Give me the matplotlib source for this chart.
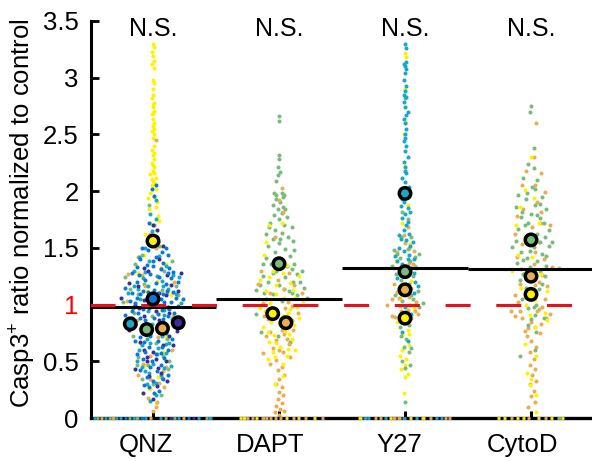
import matplotlib
matplotlib.use("Agg")
import matplotlib.pyplot as plt
from matplotlib.transforms import ScaledTranslation

plt.rcParams["font.family"] = ["Liberation Sans", "DejaVu Sans"]
plt.rcParams["mathtext.default"] = "regular"

groups = ["QNZ", "DAPT", "Y27", "CytoD"]
y_ticks = [0, 0.5, 1, 1.5, 2, 2.5, 3, 3.5]
y_tick_labels = ["0", "0.5", "1", "1.5", "2", "2.5", "3", "3.5"]
means = [0.98, 1.05, 1.32, 1.31]

yellow = "#fff200"
blue = "#0a78d8"
teal = "#18a8c8"
purple = "#3a2e96"
green = "#78bc7c"
orange = "#e8ae50"

# (offset from group centre, ratio)
qnz_yellow = [(0.0, 3.3), (0.01, 3.27), (-0.01, 3.23), (0.0, 3.19), (0.01, 3.15), (-0.01, 3.12), (0.01, 3.09), (0.0, 2.98),
              (0.01, 2.95), (0.0, 2.9), (0.0, 2.85), (-0.01, 2.82), (0.01, 2.78), (0.0, 2.74), (0.01, 2.71), (-0.01, 2.68),
              (0.0, 2.64), (0.01, 2.6), (0.0, 2.57), (-0.01, 2.53), (0.01, 2.5), (0.0, 2.47), (0.01, 2.4), (-0.01, 2.36),
              (0.0, 2.32), (0.01, 2.28), (-0.01, 2.25), (0.01, 2.21), (0.0, 2.18), (-0.02, 2.15), (0.02, 2.12), (0.0, 2.09),
              (-0.01, 2.05), (0.02, 2.02), (-0.02, 1.98), (0.01, 1.95), (0.03, 1.9), (-0.03, 1.84), (0.04, 1.78), (-0.02, 1.72),
              (0.03, 1.66), (0.06, 1.52), (-0.07, 1.44), (0.1, 1.36), (-0.12, 1.28), (0.03, 1.21), (-0.05, 1.12), (0.14, 1.08),
              (0.05, 0.92), (-0.1, 0.66), (0.08, 0.58), (-0.06, 0.47), (0.04, 0.36), (-0.02, 0.26), (0.1, 0.72), (0.02, 0.13),
              (0.01, 2.34), (0.0, 2.23), (0.01, 2.16), (-0.01, 2.11), (0.01, 2.07), (0.0, 2.76), (0.0, 2.69), (0.01, 2.55),
              (-0.06, 1.62), (0.05, 1.74), (-0.04, 1.94), (0.02, 1.86)]
qnz_blue = [(0.02, 2.05), (-0.01, 2.02), (0.01, 1.96), (-0.03, 1.72), (0.03, 1.6), (-0.04, 1.48), (0.07, 1.46), (0.12, 1.44),
            (-0.1, 1.4), (0.02, 1.42), (0.08, 1.37), (-0.05, 1.35), (0.13, 1.32), (-0.17, 1.28), (-0.02, 1.27), (0.05, 1.24),
            (0.2, 1.2), (-0.13, 1.2), (0.1, 1.18), (-0.22, 1.15), (0.01, 1.13), (-0.08, 1.12), (0.16, 1.11), (0.24, 1.05),
            (-0.05, 1.06), (0.06, 1.05), (-0.18, 1.03), (0.14, 1.02), (-0.02, 1.0), (0.2, 0.99), (-0.12, 0.93), (0.04, 0.92),
            (-0.22, 0.91), (0.12, 0.9), (-0.06, 0.86), (0.16, 0.84), (-0.14, 0.82), (0.03, 0.79), (0.1, 0.75), (-0.1, 0.71),
            (0.04, 0.68), (-0.03, 0.63), (0.12, 0.6), (-0.08, 0.52), (0.06, 0.47), (-0.1, 0.42), (0.12, 0.38), (0.0, 0.33),
            (-0.07, 0.29), (0.05, 0.24),
            (-0.09, 1.5), (0.1, 1.5), (0.0, 1.38), (-0.13, 1.33), (0.16, 1.29), (0.06, 1.31), (-0.06, 1.22), (0.14, 1.23),
            (-0.17, 1.1), (0.11, 1.12), (-0.1, 1.09), (0.04, 1.1), (0.18, 1.06), (-0.14, 1.01), (0.09, 1.02), (-0.08, 0.96),
            (0.07, 0.95), (0.17, 0.93), (-0.17, 0.94), (0.01, 0.88), (-0.1, 0.88), (0.08, 0.87), (-0.02, 0.72), (-0.14, 0.68),
            (0.07, 0.63), (-0.06, 0.58), (0.02, 0.56), (0.09, 0.53), (-0.13, 0.56), (-0.02, 0.45), (0.03, 0.41), (-0.05, 0.36),
            (0.0, 1.34), (-0.11, 1.26), (0.12, 1.28), (0.02, 1.19), (-0.04, 1.11), (0.08, 1.09), (-0.13, 1.06), (0.13, 0.96),
            (-0.03, 0.97), (0.15, 0.7), (-0.07, 0.67), (0.06, 0.57), (-0.01, 0.5), (0.08, 0.34), (-0.03, 0.27), (0.01, 0.22)]
qnz_teal = [(0.02, 1.92), (-0.02, 1.8), (0.02, 1.75), (-0.01, 1.65), (0.04, 1.55), (-0.06, 1.5), (0.1, 1.34), (-0.03, 1.38),
            (-0.15, 1.3), (0.16, 1.26), (0.03, 1.25), (-0.08, 1.23), (0.08, 1.16), (-0.2, 1.1), (0.18, 1.09), (-0.1, 1.05),
            (0.01, 1.03), (0.22, 1.01), (-0.04, 0.94), (0.09, 0.95), (-0.17, 0.88), (0.15, 0.87), (-0.01, 0.83), (0.07, 0.72),
            (-0.05, 0.7), (0.13, 0.66), (-0.11, 0.6), (0.03, 0.56), (-0.13, 0.5), (0.09, 0.44), (-0.03, 0.4), (0.14, 0.46),
            (0.07, 0.35), (-0.05, 0.3), (0.02, 0.2), (-0.02, 0.15),
            (0.05, 1.43), (-0.11, 1.42), (0.21, 1.24), (-0.04, 1.16), (0.12, 1.14), (-0.12, 1.14), (0.05, 0.99), (-0.16, 0.97),
            (0.11, 0.81), (-0.07, 0.79), (0.04, 0.62), (-0.09, 0.64), (0.1, 0.57), (0.0, 0.48), (-0.09, 0.45), (0.06, 0.38),
            (-0.06, 1.29), (0.07, 1.21), (-0.15, 1.16), (0.09, 0.91), (-0.02, 0.66), (0.1, 0.65), (-0.06, 0.41), (0.02, 0.31)]
qnz_purple = [(0.0, 1.7), (0.03, 1.66), (-0.02, 1.58), (0.05, 1.4), (-0.07, 1.32), (0.22, 1.28), (0.11, 1.26), (-0.12, 1.16),
              (0.05, 1.1), (0.2, 1.12), (-0.25, 1.06), (-0.03, 1.02), (0.1, 1.08), (-0.14, 1.0), (0.02, 0.94), (0.13, 0.93),
              (-0.07, 0.9), (0.09, 0.84), (-0.19, 0.78), (0.19, 0.77), (-0.02, 0.74), (-0.1, 0.67), (0.13, 0.72), (0.16, 0.64),
              (0.0, 0.58), (-0.05, 0.54), (0.1, 0.5), (-0.14, 0.43), (0.06, 0.4), (-0.03, 0.37), (0.11, 0.33), (-0.08, 0.22),
              (0.0, 0.17), (0.03, 0.28), (-0.05, 0.5), (0.02, 0.52),
              (0.08, 1.52), (-0.04, 1.3), (0.14, 1.17), (-0.19, 1.19), (0.03, 1.07), (-0.07, 1.04), (0.12, 0.98), (-0.11, 0.97),
              (0.05, 0.86), (0.08, 0.64), (-0.07, 0.6), (0.04, 0.44)]
qnz_green = [(-0.03, 1.88), (0.01, 1.7), (0.05, 1.52), (-0.09, 1.44), (-0.14, 1.36), (0.15, 1.38), (-0.22, 1.24), (0.18, 1.16),
             (-0.18, 1.14), (0.07, 1.13), (-0.12, 1.09), (0.12, 0.97), (-0.24, 1.02), (-0.01, 0.9), (0.06, 0.83), (-0.08, 0.78),
             (0.11, 0.7), (-0.16, 0.72), (0.02, 0.66), (-0.12, 0.54), (0.08, 0.55), (-0.04, 0.47), (0.12, 0.43), (0.0, 0.3),
             (-0.09, 0.34), (0.06, 0.2), (0.09, 1.3), (-0.07, 1.18), (0.2, 1.08), (-0.15, 0.93), (0.13, 0.5), (-0.13, 0.47)]
qnz_orange = [(0.02, 2.45), (-0.02, 1.62), (0.02, 1.5), (-0.12, 1.42), (0.06, 1.32), (-0.2, 1.27), (0.17, 1.2), (-0.06, 1.16),
              (0.03, 1.07), (-0.21, 1.03), (0.16, 0.9), (-0.13, 0.86), (0.06, 0.77), (-0.07, 0.75), (0.15, 0.6), (-0.02, 0.55),
              (0.1, 0.45), (-0.12, 0.38), (0.05, 0.31), (0.09, 0.27), (-0.04, 0.18), (0.02, 0.1), (0.0, 0.06),
              (-0.09, 1.26), (0.11, 1.1), (0.04, 0.71), (-0.08, 0.48), (0.08, 0.41), (-0.02, 0.34), (0.03, 0.14)]

dapt_green = [(0.0, 2.66), (0.0, 2.62), (0.0, 2.32), (0.0, 2.28), (-0.01, 2.21), (0.01, 2.17), (-0.01, 2.14), (-0.02, 2.09),
              (-0.04, 1.98), (-0.02, 1.97), (0.02, 1.98), (0.04, 1.97), (-0.02, 1.93), (0.01, 1.9), (0.03, 1.86), (-0.01, 1.84),
              (0.02, 1.81), (-0.04, 1.79), (0.06, 1.77), (0.0, 1.75), (-0.07, 1.72), (0.04, 1.7), (0.1, 1.68), (-0.03, 1.66),
              (0.02, 1.63), (-0.1, 1.62), (0.07, 1.6), (-0.05, 1.58), (0.11, 1.56), (0.0, 1.54), (-0.09, 1.52), (0.05, 1.49),
              (-0.03, 1.46), (0.09, 1.43), (-0.1, 1.41), (0.0, 1.4), (-0.06, 1.36), (0.1, 1.31), (-0.02, 1.3), (0.14, 1.27),
              (-0.13, 1.25), (0.05, 1.24), (0.17, 1.2), (-0.09, 1.2), (0.0, 1.17), (0.2, 1.15), (-0.18, 1.13), (0.08, 1.12),
              (-0.05, 1.09), (0.14, 1.08), (0.22, 1.06), (-0.1, 1.05), (0.02, 1.03), (-0.18, 0.92), (-0.01, 0.72), (-0.14, 0.76),
              (0.05, 0.85), (0.09, 0.67),
              (0.03, 1.95), (-0.05, 1.88), (0.05, 1.84), (-0.08, 1.68), (0.01, 1.58), (0.12, 1.48), (-0.13, 1.36), (0.06, 1.34),
              (0.12, 1.36), (-0.05, 1.28), (0.18, 1.3), (-0.15, 1.17), (0.11, 1.2), (0.04, 1.14), (-0.12, 1.1), (0.1, 1.1)]
dapt_yellow = [(-0.08, 1.7), (0.02, 1.72), (-0.12, 1.44), (0.06, 1.35), (-0.05, 1.3), (0.16, 1.25), (-0.15, 1.22), (-0.02, 1.17),
               (0.11, 1.13), (-0.1, 1.12), (0.04, 1.06), (-0.17, 1.05), (0.19, 1.03), (-0.07, 1.01), (0.14, 0.98), (0.09, 0.96),
               (-0.11, 0.94), (0.03, 0.9), (0.16, 0.88), (-0.06, 0.85), (0.12, 0.82), (-0.13, 0.8), (0.05, 0.77), (-0.04, 0.73),
               (0.1, 0.7), (-0.08, 0.67), (0.01, 0.63), (0.13, 0.6), (-0.05, 0.58), (0.06, 0.55), (-0.09, 0.52), (0.03, 0.48),
               (-0.03, 0.3), (0.03, 0.37),
               (-0.1, 1.55), (0.03, 1.28), (-0.08, 1.24), (0.09, 1.19), (-0.02, 1.09), (0.13, 1.06), (0.07, 0.93), (-0.15, 0.97),
               (0.01, 0.83), (-0.09, 0.76), (0.08, 0.74), (-0.02, 0.66), (0.07, 0.61), (-0.03, 0.54)]
dapt_orange = [(0.02, 2.03), (0.0, 1.92), (0.03, 1.82), (-0.03, 1.6), (-0.14, 1.3), (0.08, 1.28), (-0.01, 1.22), (0.12, 1.17),
               (-0.17, 1.18), (0.04, 1.14), (-0.07, 1.1), (0.18, 1.1), (0.07, 1.02), (-0.13, 1.01), (0.1, 0.99), (0.15, 0.93),
               (-0.02, 0.95), (0.07, 0.89), (-0.09, 0.87), (0.01, 0.84), (0.11, 0.78), (-0.07, 0.76), (0.04, 0.74), (-0.02, 0.69),
               (0.08, 0.65), (-0.05, 0.62), (0.03, 0.58), (-0.13, 0.57), (0.09, 0.54), (-0.02, 0.51), (-0.07, 0.48), (0.02, 0.45),
               (-0.01, 0.42), (0.04, 0.38), (0.0, 0.34), (-0.02, 0.3), (0.02, 0.27), (0.0, 0.23), (0.03, 0.2), (-0.01, 0.17),
               (0.02, 0.13), (-0.02, 0.11), (0.01, 0.08), (0.04, 0.06), (-0.03, 0.05), (0.0, 0.03),
               (0.05, 0.97), (-0.04, 0.91), (0.1, 0.86), (-0.12, 0.9), (0.02, 0.78), (-0.1, 0.72), (0.06, 0.7), (0.0, 0.6)]

y27_teal = [(0.0, 3.3), (0.01, 3.26), (-0.01, 3.12), (0.01, 3.08), (0.0, 3.04), (-0.01, 2.98), (0.01, 2.93), (0.0, 2.88),
            (0.01, 2.83), (-0.01, 2.79), (0.0, 2.74), (0.02, 2.7), (-0.01, 2.64), (0.0, 2.6), (0.01, 2.55), (0.0, 2.5),
            (-0.01, 2.44), (0.01, 2.4), (0.0, 2.35), (0.02, 2.3), (-0.01, 2.26), (0.0, 2.21), (0.01, 2.16), (-0.02, 2.12),
            (0.0, 2.08), (0.03, 2.04), (0.01, 2.0), (-0.01, 1.9), (-0.03, 1.87), (0.02, 1.85), (0.04, 1.82), (-0.02, 1.76),
            (0.01, 1.7), (-0.01, 1.66), (0.03, 1.62), (-0.03, 1.58), (0.06, 1.55), (-0.05, 1.5), (0.03, 1.44), (-0.08, 1.43),
            (0.07, 1.4), (-0.02, 1.36), (0.05, 1.32), (-0.04, 1.3), (0.08, 1.2), (-0.06, 1.23), (0.03, 1.14), (0.0, 0.98),
            (0.05, 0.92), (-0.02, 0.76), (0.02, 0.68),
            (0.01, 3.14), (0.0, 3.1), (-0.01, 2.85), (0.01, 2.67), (0.0, 2.47), (0.0, 2.18), (-0.02, 1.93), (0.0, 1.8),
            (0.02, 1.73), (-0.05, 1.61), (0.01, 1.57), (0.04, 1.52), (-0.01, 1.47), (-0.06, 1.38), (0.02, 1.4), (0.07, 1.28),
            (-0.01, 1.25), (0.1, 1.16), (-0.03, 1.1), (0.07, 1.1)]
y27_green = [(0.0, 2.82), (0.0, 1.95), (-0.02, 1.82), (0.02, 1.75), (-0.03, 1.6), (0.05, 1.6), (-0.09, 1.48), (0.11, 1.45),
             (-0.04, 1.41), (0.04, 1.38), (-0.1, 1.34), (0.09, 1.32), (0.0, 1.3), (-0.07, 1.27), (0.06, 1.25), (0.03, 1.18),
             (-0.05, 1.15), (0.1, 1.12), (-0.08, 1.08), (0.06, 1.05), (0.14, 1.01), (-0.02, 1.03), (0.11, 0.98), (-0.01, 0.92),
             (0.03, 0.82), (-0.03, 0.72), (-0.01, 0.63), (0.03, 0.58), (-0.02, 0.5), (0.04, 0.47), (0.0, 0.44), (0.0, 0.14),
             (0.02, 1.49), (-0.06, 1.45), (0.08, 1.42), (-0.03, 1.22), (0.05, 1.08), (-0.04, 0.8), (0.01, 0.7), (0.05, 0.62)]
y27_orange = [(0.02, 1.68), (-0.01, 1.61), (0.03, 1.5), (-0.06, 1.46), (0.07, 1.47), (0.03, 1.37), (-0.03, 1.33), (0.08, 1.34),
              (0.01, 1.27), (-0.09, 1.18), (0.05, 1.15), (-0.06, 1.11), (0.03, 1.07), (-0.1, 1.05), (0.09, 1.02), (-0.14, 1.0),
              (-0.04, 0.99), (0.02, 0.95), (0.08, 0.94), (-0.1, 0.9), (0.0, 0.86), (0.05, 0.88), (-0.08, 0.89),
              (0.0, 1.54), (0.06, 1.36), (-0.05, 1.06), (0.04, 1.0), (-0.03, 0.94), (0.1, 0.92)]
y27_yellow = [(0.0, 3.22), (0.01, 3.18), (0.0, 2.9), (0.01, 2.6), (-0.01, 2.5), (0.0, 2.22), (0.02, 1.88), (-0.02, 1.72),
              (0.04, 1.53), (-0.07, 1.38), (0.05, 1.21), (0.02, 1.1), (-0.04, 1.06), (0.07, 0.97), (-0.06, 0.85), (0.02, 0.78),
              (-0.02, 0.73), (0.03, 0.64), (-0.04, 0.55), (0.01, 0.52), (-0.03, 0.43), (0.02, 0.39), (0.0, 0.36), (-0.01, 0.22),
              (0.03, 0.74), (-0.02, 0.6), (0.0, 0.47)]

cytod_green = [(0.0, 2.75), (-0.01, 2.7), (0.02, 2.38), (-0.02, 2.24), (0.02, 2.2), (-0.06, 2.12), (0.05, 2.1), (0.01, 2.04),
               (-0.1, 1.97), (0.09, 1.95), (-0.04, 1.93), (0.03, 1.88), (-0.12, 1.86), (0.12, 1.84), (0.0, 1.8), (-0.08, 1.77),
               (0.07, 1.76), (-0.02, 1.72), (0.14, 1.66), (-0.1, 1.67), (0.05, 1.62), (-0.05, 1.6), (0.11, 1.6), (0.17, 1.55),
               (-0.15, 1.51), (0.02, 1.51), (0.14, 1.52), (-0.08, 1.46), (0.09, 1.45), (-0.03, 1.41), (0.05, 1.38), (0.12, 1.34),
               (-0.11, 1.37), (-0.01, 1.33), (0.07, 1.3), (-0.06, 1.27), (0.11, 1.25), (0.09, 1.18), (-0.04, 1.15), (0.01, 1.05),
               (-0.07, 1.05), (0.04, 1.0), (-0.02, 0.97), (0.03, 0.91), (0.0, 0.87), (-0.02, 0.82), (0.04, 0.76), (-0.09, 0.55),
               (0.03, 0.6), (0.1, 0.88),
               (0.03, 2.02), (-0.03, 1.98), (0.07, 1.89), (-0.07, 1.82), (0.05, 1.79), (0.1, 1.72), (-0.05, 1.7), (-0.12, 1.56),
               (0.07, 1.55), (-0.01, 1.47), (0.12, 1.43), (-0.06, 1.39), (0.03, 1.25), (-0.09, 1.22), (0.06, 1.14), (0.02, 0.98)]
cytod_orange = [(0.04, 2.6), (0.02, 2.3), (-0.04, 2.18), (0.08, 2.16), (0.03, 2.05), (-0.07, 2.05), (0.11, 1.99), (0.05, 1.9),
                (-0.06, 1.84), (0.08, 1.82), (-0.11, 1.78), (0.15, 1.7), (0.01, 1.68), (-0.13, 1.62), (0.06, 1.55), (-0.07, 1.53),
                (0.03, 1.46), (-0.11, 1.42), (0.1, 1.4), (0.02, 1.36), (0.17, 1.33), (0.22, 1.32), (-0.04, 1.23), (0.06, 1.2),
                (-0.09, 1.18), (0.13, 1.16), (-0.13, 1.08), (0.02, 1.1), (-0.1, 1.02), (0.09, 0.98), (-0.16, 0.94), (0.05, 0.94),
                (-0.13, 0.9), (0.15, 0.92), (-0.07, 0.88), (0.0, 0.85), (0.08, 0.83), (-0.02, 0.79), (0.07, 0.75), (-0.03, 0.72),
                (0.0, 0.68), (0.04, 0.63), (-0.01, 0.58), (0.02, 0.52), (-0.01, 0.47), (0.03, 0.43), (0.01, 0.38), (0.04, 0.33),
                (-0.01, 0.3), (0.02, 0.24), (0.0, 0.19), (0.03, 0.14), (-0.02, 0.1),
                (0.08, 1.72), (-0.02, 1.6), (0.09, 1.26), (-0.08, 1.31), (0.03, 1.17), (0.11, 1.05), (-0.04, 1.07), (0.06, 0.96),
                (-0.09, 0.94), (0.12, 0.88), (0.03, 0.8), (-0.05, 0.77)]
cytod_yellow = [(0.0, 2.3), (-0.05, 2.01), (0.02, 1.94), (-0.09, 1.86), (0.06, 1.72), (-0.12, 1.7), (0.04, 1.58), (-0.1, 1.44),
                (0.01, 1.42), (-0.15, 1.3), (0.08, 1.27), (0.13, 1.12), (-0.08, 1.15), (0.03, 1.04), (-0.04, 1.0), (0.11, 0.93),
                (-0.01, 0.91), (0.13, 0.86), (0.03, 0.8), (-0.05, 0.65), (0.04, 0.55), (-0.03, 0.4), (0.0, 0.34), (0.04, 0.2),
                (-0.01, 0.29), (0.04, 0.05)]

# values at zero, spread along the axis
qnz_zero = [(-0.48, teal), (-0.45, green), (-0.42, orange), (-0.39, teal), (-0.36, green), (-0.33, orange), (-0.3, teal), (-0.27, teal),
            (-0.23, blue), (-0.2, green), (-0.17, teal), (-0.14, green), (-0.1, blue), (-0.07, teal), (-0.03, orange), (0.05, teal),
            (0.09, green), (0.13, purple), (0.16, green), (0.19, teal), (0.23, orange), (0.27, blue), (0.31, purple), (0.35, teal),
            (0.41, green), (0.44, teal)]
dapt_zero = [(-0.32, yellow), (-0.29, yellow), (-0.26, orange), (-0.22, orange), (-0.19, yellow), (-0.14, orange), (-0.11, orange),
             (-0.08, orange), (-0.04, orange), (0.0, orange), (0.05, yellow), (0.1, orange), (0.14, yellow), (0.2, orange), (0.27, yellow),
             (0.33, orange)]
y27_zero = [(-0.37, yellow), (-0.33, teal), (-0.3, teal), (-0.25, orange), (-0.21, orange), (-0.17, teal), (-0.13, yellow), (-0.1, orange),
            (-0.06, orange), (-0.02, teal), (0.03, yellow), (0.08, teal), (0.13, yellow), (0.19, orange), (0.24, teal), (0.28, teal),
            (0.31, orange), (0.34, orange)]
cytod_zero = [(-0.27, yellow), (-0.22, yellow), (-0.17, orange), (-0.12, yellow), (-0.07, yellow), (-0.03, orange), (0.05, yellow),
              (0.1, orange), (0.15, yellow), (0.21, green), (0.24, yellow)]

# experiment averages
avg_x = [1, 1, 1, 1, 1, 1, 2, 2, 2, 3, 3, 3, 3, 4, 4, 4]
avg_dx = [-0.18, -0.05, 0.075, 0.2, 0.0, 0.0, 0.0, -0.05, 0.055, 0.0, 0.0, 0.0, 0.0, 0.0, 0.0, 0.0]
avg_y = [0.83, 0.78, 0.79, 0.84, 1.05, 1.56, 1.36, 0.92, 0.84, 1.98, 1.29, 1.13, 0.88, 1.57, 1.25, 1.09]
avg_c = [teal, green, orange, purple, blue, yellow, green, yellow, orange, teal, green, orange, yellow, green, orange, yellow]

dots = [
    (1, qnz_yellow, yellow), (1, qnz_green, green), (1, qnz_orange, orange),
    (1, qnz_teal, teal), (1, qnz_purple, purple), (1, qnz_blue, blue),
    (2, dapt_green, green), (2, dapt_orange, orange), (2, dapt_yellow, yellow),
    (3, y27_yellow, yellow), (3, y27_orange, orange), (3, y27_green, green), (3, y27_teal, teal),
    (4, cytod_orange, orange), (4, cytod_green, green), (4, cytod_yellow, yellow),
]
zeros = [(1, qnz_zero), (2, dapt_zero), (3, y27_zero), (4, cytod_zero)]

fig = plt.figure(figsize=(5.92, 4.61), dpi=100)
ax = fig.add_axes([91 / 592, 43 / 461, 501 / 592, 397 / 461])

for g, pts, col in dots:
    ax.scatter([g + p[0] for p in pts], [p[1] for p in pts], s=8.5, color=col, linewidths=0, zorder=2)

for i, m in enumerate(means):
    ax.plot([i + 0.5, i + 1.5], [m, m], color="black", lw=2.2, solid_capstyle="butt", zorder=3)
ax.plot([0.5, 4.34], [1, 1], color="#e8101c", lw=2.2, dashes=(8.2, 8.4), dash_capstyle="butt", zorder=3)

ax.scatter([a + b for a, b in zip(avg_x, avg_dx)], avg_y, s=68, c=avg_c, edgecolors="black", linewidths=2.5, zorder=4)

ax.set_xlim(0.508, 4.484)
ax.set_ylim(0, 3.5)
ax.set_xticks([1, 2, 3, 4])
ax.set_xticklabels(groups, fontsize=18.5)
ax.set_yticks(y_ticks)
ax.set_yticklabels(y_tick_labels, fontsize=18.5)
ax.tick_params(axis="x", direction="in", length=5, width=2.2, pad=11)
ax.tick_params(axis="y", direction="in", length=6, width=2, pad=9)
ax.get_yticklabels()[2].set_color("#ff0000")
ax.spines["top"].set_visible(False)
ax.spines["right"].set_visible(False)
ax.spines["left"].set_linewidth(2.2)
ax.spines["bottom"].set_linewidth(2.4)

# group labels sit a little left of their ticks
label_shift = [-7, -9, -6, -9]
for lab, dx in zip(ax.get_xticklabels(), label_shift):
    lab.set_transform(lab.get_transform() + ScaledTranslation(dx / 100, 0, fig.dpi_scale_trans))

for g, pts in zeros:
    for dx, col in pts:
        ax.plot([g + dx, g + dx + 0.025], [0, 0], color=col, lw=2.0, solid_capstyle="butt", clip_on=False, zorder=5)

for i in range(4):
    ax.text(i + 1, 3.43, "N.S.", ha="center", va="center", fontsize=18, zorder=6)

fig.text(23 / 592, 248 / 461, "Casp3$^{+}$ ratio normalized to control", rotation=90,
         ha="center", va="center", fontsize=18.5)

fig.savefig("out.png", dpi=100)
